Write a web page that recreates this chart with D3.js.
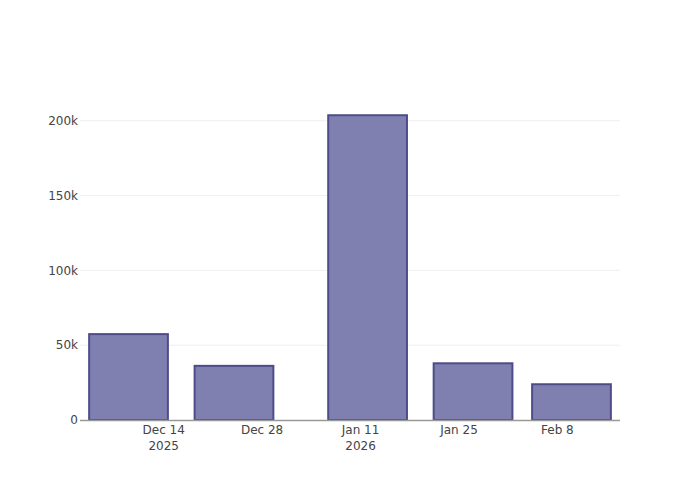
<!DOCTYPE html>
<html>
<head>
<meta charset="utf-8">
<script src="https://cdn.jsdelivr.net/npm/d3@7"></script>
<style>
  body { margin: 0; background: #fff; }
  text { font-family: "DejaVu Sans", sans-serif; }
</style>
</head>
<body>
<svg id="chart" width="700" height="500"></svg>
<script>
const dates = ["2025-12-09", "2025-12-24", "2026-01-12", "2026-01-27", "2026-02-10"];
const values = [57400, 36200, 203700, 37900, 23900];
const yTicks = [0, 50000, 100000, 150000, 200000];
const yTickLabels = ["0", "50k", "100k", "150k", "200k"];
const xTicks = ["2025-12-14", "2025-12-28", "2026-01-11", "2026-01-25", "2026-02-08"];
const xTickLabels = [["Dec 14", "2025"], ["Dec 28"], ["Jan 11", "2026"], ["Jan 25"], ["Feb 8"]];

const parse = d3.utcParse("%Y-%m-%d");
const DAY = 86400000;
const dateObjs = dates.map(parse);
const minGap = d3.min(d3.pairs(dateObjs), ([a, b]) => b - a);
const barW = 0.8 * minGap;

const margin = {l: 80, r: 80, t: 100, b: 80};
const W = 700, H = 500;
const svg = d3.select("#chart");

const pad = 1.3 * DAY;
const x = d3.scaleUtc()
  .domain([new Date(+dateObjs[0] - barW / 2 - pad), new Date(+dateObjs[dateObjs.length - 1] + barW / 2 + pad)])
  .range([margin.l, W - margin.r]);
const y = d3.scaleLinear()
  .domain([0, d3.max(values) * 1.05])
  .range([H - margin.b, margin.t]);

// grid
svg.append("g").selectAll("line").data(yTicks.slice(1)).join("line")
  .attr("x1", margin.l).attr("x2", W - margin.r)
  .attr("y1", d => y(d)).attr("y2", d => y(d))
  .attr("stroke", "#eee").attr("stroke-width", 1);

// y labels
svg.append("g").selectAll("text").data(yTicks).join("text")
  .attr("x", margin.l - 2).attr("y", d => y(d))
  .attr("dy", "0.35em").attr("text-anchor", "end")
  .attr("font-size", 12).attr("fill", "#444")
  .text((d, i) => yTickLabels[i]);

// bars
svg.append("g").selectAll("rect").data(values).join("rect")
  .attr("x", (d, i) => x(new Date(+dateObjs[i] - barW / 2)))
  .attr("width", (d, i) => x(new Date(+dateObjs[i] + barW / 2)) - x(new Date(+dateObjs[i] - barW / 2)))
  .attr("y", d => y(d))
  .attr("height", d => y(0) - y(d))
  .attr("fill", "rgb(128,128,176)")
  .attr("stroke", "rgb(78,76,136)")
  .attr("stroke-width", 2);

// x axis line
svg.append("line")
  .attr("x1", margin.l).attr("x2", W - margin.r)
  .attr("y1", y(0) + 0.5).attr("y2", y(0) + 0.5)
  .attr("stroke", "#999").attr("stroke-width", 1.5);

// x labels
const xl = svg.append("g").selectAll("text").data(xTicks).join("text")
  .attr("x", d => x(parse(d)))
  .attr("y", y(0) + 14)
  .attr("text-anchor", "middle")
  .attr("font-size", 12).attr("fill", "#444");
xl.each(function(d, i) {
  const t = d3.select(this);
  xTickLabels[i].forEach((s, j) => {
    t.append("tspan").attr("x", x(parse(d))).attr("dy", j === 0 ? 0 : 16).text(s);
  });
});
</script>
</body>
</html>
